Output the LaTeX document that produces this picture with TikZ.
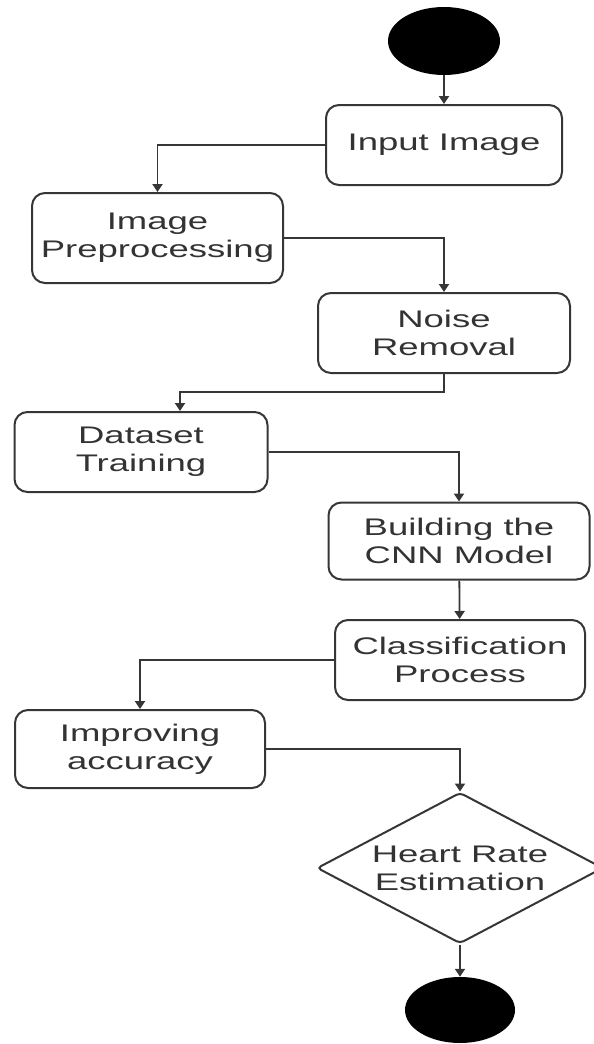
\documentclass[tikz,border=0pt]{standalone}
\usepackage{fontspec}
\newfontfamily\flowfont{Liberation Sans}[FakeStretch=1.52]
\usepackage{tikz}
\usetikzlibrary{arrows.meta,shapes.geometric,positioning}
\definecolor{edgegray}{HTML}{363636}
\definecolor{textgray}{HTML}{333333}

\begin{document}
\begin{tikzpicture}[x=1pt, y=-1pt,
  >={Triangle[length=8pt,width=10pt]},
  box/.style={rectangle, rounded corners=13pt, draw=edgegray, line width=2pt, align=center,
    text=textgray, font=\flowfont\fontsize{24}{28}\selectfont, inner sep=2pt},
  dot/.style={ellipse, fill=black, minimum width=112pt, minimum height=68pt, inner sep=0pt},
  flow/.style={draw=edgegray, line width=1.8pt, ->}]
\clip (0,0) rectangle (594,1044);
\useasboundingbox (0,0) rectangle (594,1044);
\node (start) at (444,41) [dot] {};
\node (input) at (444,145) [box, minimum width=236pt, minimum height=80pt] {Input Image};
\node (prep) at (157.5,238) [box, minimum width=251pt, minimum height=90pt] {Image\\Preprocessing};
\node (noise) at (444,333) [box, minimum width=252pt, minimum height=80pt] {Noise\\Removal};
\node (data) at (141,452) [box, minimum width=253pt, minimum height=80pt] {Dataset\\Training};
\node (cnn) at (459,541) [box, minimum width=261pt, minimum height=77pt] {Building the\\CNN Model};
\node (classify) at (460,660) [box, minimum width=250pt, minimum height=80pt] {Classification\\Process};
\node (improve) at (140,749) [box, minimum width=250pt, minimum height=78pt] {Improving\\accuracy};
\node (rate) at (460,868) [diamond, draw=edgegray, line width=2pt, rounded corners=4pt, align=center,
  text=textgray, font=\flowfont\fontsize{24}{28}\selectfont, inner sep=-20pt,
  minimum width=286pt, minimum height=151pt] {Heart Rate\\Estimation};
\node (stop) at (460,1010) [dot, minimum width=110pt, minimum height=66pt] {};
\coordinate (turn) at (180,392);
\draw[flow] (start) -- (input);
\draw[flow] (input.west) -| (prep.north);
\draw[flow] (prep.east) -| (noise.north);
\draw[flow] (noise.south) |- (turn) -- (turn |- data.north);
\draw[flow] (data.east) -| (cnn.north);
\draw[flow] (cnn) -- (classify);
\draw[flow] (classify.west) -| (improve.north);
\draw[flow] (improve.east) -| (rate.north);
\draw[flow] (rate) -- (stop);
\end{tikzpicture}
\end{document}
